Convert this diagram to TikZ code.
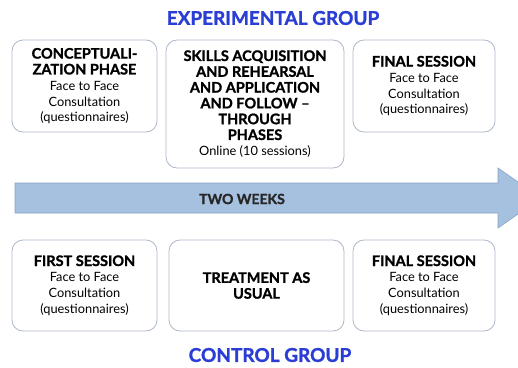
\documentclass[tikz,border=0pt]{standalone}
\usepackage{fontspec}
\setmainfont{Lato}[BoldFeatures={FakeBold=1.3}]
\usepackage{xcolor}
\usetikzlibrary{positioning}
\definecolor{groupblue}{HTML}{2A3ED6}
\definecolor{boxline}{HTML}{AEB8C8}
\definecolor{arrowfill}{HTML}{A6C1E0}
\definecolor{arrowline}{HTML}{86A3C8}

\tikzset{
	phase/.style={draw=boxline, line width=0.8pt, rounded corners=11pt, fill=white, align=center, inner sep=2pt, font=\fontsize{12.8}{15.8}\selectfont},
	group/.style={text=groupblue, font=\fontsize{19}{22}\selectfont\bfseries}
}
\newcommand{\ttl}[1]{{\bfseries\fontsize{14.5}{16.5}\selectfont #1}}

\begin{document}
\begin{tikzpicture}[x=1pt, y=-1pt]
	\clip (0,0) rectangle (518,367);
	\fill[white] (0,0) rectangle (518,367);
	% time arrow
	\draw[fill=arrowfill, draw=arrowline, line width=0.6pt] (15,183) -- (498,183) -- (498,168) -- (541,198) -- (498,228) -- (498,213) -- (15,213) -- cycle;
	\node[font=\fontsize{14}{16}\selectfont\bfseries, text=black!85] (weeks) at (242,199) {TWO WEEKS};
	% experimental group
	\node[group] (exp) at (273,18) {EXPERIMENTAL GROUP};
	\node[phase, minimum width=145pt, minimum height=92pt] (e1) at (84.5,86) {\ttl{CONCEPTUALI-}\\\ttl{ZATION PHASE}\\Face to Face\\Consultation\\(questionnaires)};
	\node[phase, minimum width=178pt, minimum height=128pt] (e2) at (255,104) {\ttl{SKILLS ACQUISITION}\\\ttl{AND REHEARSAL}\\\ttl{AND APPLICATION}\\\ttl{AND FOLLOW --}\\\ttl{THROUGH}\\\ttl{PHASES}\\Online (10 sessions)};
	\node[phase, minimum width=142pt, minimum height=92pt] (e3) at (424,86) {\ttl{FINAL SESSION}\\Face to Face\\Consultation\\(questionnaires)};
	% control group
	\node[phase, minimum width=145pt, minimum height=91pt] (c1) at (84.5,285.5) {\ttl{FIRST SESSION}\\Face to Face\\Consultation\\(questionnaires)};
	\node[phase, minimum width=175pt, minimum height=91pt] (c2) at (256.5,285.5) {\ttl{TREATMENT AS}\\\ttl{USUAL}};
	\node[phase, minimum width=142pt, minimum height=91pt] (c3) at (424,285.5) {\ttl{FINAL SESSION}\\Face to Face\\Consultation\\(questionnaires)};
	\node[group] (ctl) at (270,355) {CONTROL GROUP};
\end{tikzpicture}
\end{document}
